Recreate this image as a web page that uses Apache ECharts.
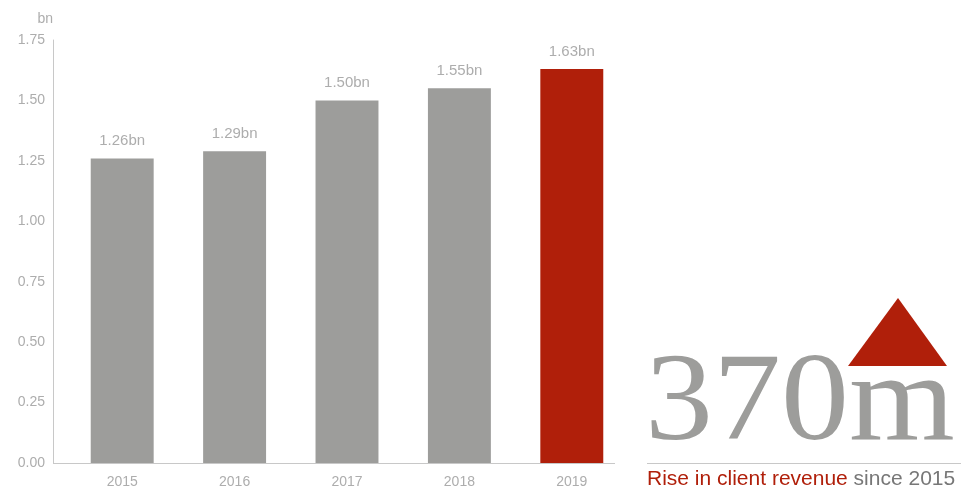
<!DOCTYPE html>
<html>
<head>
<meta charset="utf-8">
<script src="https://cdn.jsdelivr.net/npm/echarts@6/dist/echarts.min.js"></script>
<style>
  html, body { margin: 0; padding: 0; background: #fff; }
  #chart { width: 963px; height: 491px; }
</style>
</head>
<body>
<div id="chart"></div>
<script>
const years = ["2015", "2016", "2017", "2018", "2019"];
const revenue = [1.26, 1.29, 1.50, 1.55, 1.63];
const highlightYear = "2019";

const grey = "#9d9d9b";
const red = "#b01f0a";
const textGrey = "#adadad";
const font = "'Liberation Sans', Arial, sans-serif";

const chart = echarts.init(document.getElementById("chart"));

chart.setOption({
  animation: false,
  grid: { left: 66, right: 335, top: 40, bottom: 28 },
  xAxis: {
    type: "category",
    data: years,
    axisLine: { show: false },
    axisTick: { show: false },
    axisLabel: { color: textGrey, fontSize: 14, fontFamily: font, margin: 12 }
  },
  yAxis: {
    type: "value",
    min: 0,
    max: 1.75,
    interval: 0.25,
    offset: 13,
    name: "bn",
    nameGap: 14,
    nameTextStyle: { color: textGrey, fontSize: 14, fontFamily: font, align: "right" },
    splitLine: { show: false },
    axisLine: { show: true, lineStyle: { color: "#c8c8c8" } },
    axisLabel: {
      color: textGrey, fontSize: 14, fontFamily: font, margin: 8,
      formatter: (v) => v.toFixed(2)
    }
  },
  series: [{
    type: "bar",
    barWidth: "56%",
    data: revenue.map((v, i) => ({
      value: v,
      itemStyle: { color: years[i] === highlightYear ? red : grey }
    })),
    label: {
      show: true,
      position: "top",
      distance: 10,
      color: textGrey,
      fontSize: 15,
      fontFamily: font,
      formatter: (p) => p.value.toFixed(2) + "bn"
    }
  }],
  graphic: [
    {
      // x axis baseline runs from the y axis to the end of the plot
      type: "line",
      shape: { x1: 53, y1: 463.5, x2: 615, y2: 463.5 },
      style: { stroke: "#c8c8c8", lineWidth: 1 }
    },
    {
      type: "polygon",
      shape: { points: [[898, 298], [848, 366], [947, 366]] },
      style: { fill: red }
    },
    {
      type: "text",
      x: 645,
      y: 469,
      scaleX: 1.0,
      scaleY: 0.92,
      style: {
        text: "370m",
        fontSize: 136,
        fontFamily: "'Liberation Serif', serif",
        fill: grey,
        verticalAlign: "bottom"
      }
    },
    {
      type: "line",
      shape: { x1: 647, y1: 463.5, x2: 961, y2: 463.5 },
      style: { stroke: "#c8c8c8", lineWidth: 1 }
    },
    {
      type: "text",
      left: 647,
      top: 469,
      style: {
        text: "{r|Rise in client revenue}{g| since 2015}",
        rich: {
          r: { fill: red, fontSize: 21, fontFamily: font },
          g: { fill: "#777", fontSize: 21, fontFamily: font }
        }
      }
    }
  ]
});
</script>
</body>
</html>
